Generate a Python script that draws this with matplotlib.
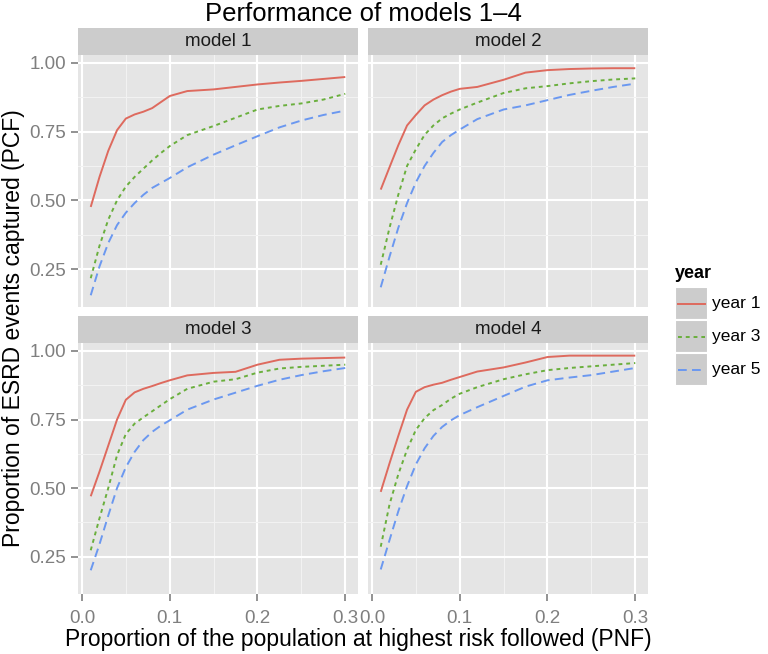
import matplotlib
matplotlib.use("Agg")
import matplotlib.pyplot as plt
from matplotlib.patches import Rectangle
import numpy as np

plt.rcParams['font.family'] = ['Liberation Sans', 'DejaVu Sans']

# proportion followed (PNF), common grid for all curves
pnf = [0.01, 0.02, 0.03, 0.04, 0.05, 0.06, 0.07, 0.08, 0.09, 0.10,
       0.12, 0.15, 0.175, 0.20, 0.225, 0.25, 0.275, 0.30]

models = ["model 1", "model 2", "model 3", "model 4"]
years = ["year 1", "year 3", "year 5"]

m1_y1 = [0.476, 0.585, 0.680, 0.755, 0.797, 0.812, 0.822, 0.835, 0.857, 0.879,
         0.897, 0.903, 0.912, 0.921, 0.928, 0.934, 0.941, 0.948]
m1_y3 = [0.217, 0.335, 0.430, 0.500, 0.550, 0.585, 0.615, 0.645, 0.672, 0.697,
         0.737, 0.770, 0.800, 0.830, 0.843, 0.852, 0.866, 0.887]
m1_y5 = [0.155, 0.260, 0.345, 0.410, 0.455, 0.490, 0.520, 0.545, 0.563, 0.581,
         0.620, 0.666, 0.700, 0.733, 0.765, 0.790, 0.810, 0.826]

m2_y1 = [0.539, 0.620, 0.700, 0.772, 0.810, 0.845, 0.866, 0.882, 0.895, 0.905,
         0.912, 0.938, 0.964, 0.973, 0.977, 0.979, 0.980, 0.980]
m2_y3 = [0.266, 0.400, 0.520, 0.625, 0.685, 0.738, 0.772, 0.798, 0.815, 0.830,
         0.855, 0.890, 0.907, 0.915, 0.925, 0.933, 0.939, 0.943]
m2_y5 = [0.184, 0.295, 0.400, 0.490, 0.565, 0.625, 0.672, 0.712, 0.737, 0.757,
         0.795, 0.830, 0.845, 0.864, 0.883, 0.898, 0.912, 0.924]

m3_y1 = [0.470, 0.560, 0.655, 0.750, 0.822, 0.849, 0.862, 0.872, 0.883, 0.893,
         0.911, 0.920, 0.924, 0.950, 0.968, 0.972, 0.974, 0.976]
m3_y3 = [0.273, 0.390, 0.500, 0.620, 0.697, 0.735, 0.758, 0.780, 0.802, 0.824,
         0.862, 0.888, 0.897, 0.921, 0.936, 0.942, 0.946, 0.950]
m3_y5 = [0.200, 0.295, 0.400, 0.500, 0.576, 0.632, 0.675, 0.705, 0.728, 0.747,
         0.786, 0.823, 0.848, 0.873, 0.895, 0.912, 0.926, 0.938]

m4_y1 = [0.486, 0.590, 0.690, 0.786, 0.851, 0.868, 0.877, 0.884, 0.895, 0.905,
         0.925, 0.940, 0.958, 0.978, 0.983, 0.983, 0.983, 0.983]
m4_y3 = [0.286, 0.440, 0.550, 0.640, 0.712, 0.755, 0.784, 0.803, 0.826, 0.844,
         0.868, 0.897, 0.915, 0.930, 0.938, 0.944, 0.950, 0.956]
m4_y5 = [0.203, 0.310, 0.415, 0.507, 0.586, 0.645, 0.690, 0.723, 0.747, 0.766,
         0.795, 0.836, 0.870, 0.893, 0.903, 0.912, 0.925, 0.938]

series = {
    "model 1": [m1_y1, m1_y3, m1_y5],
    "model 2": [m2_y1, m2_y3, m2_y5],
    "model 3": [m3_y1, m3_y3, m3_y5],
    "model 4": [m4_y1, m4_y3, m4_y5],
}

colors = ["#DE6A5E", "#6AAF3D", "#6B98F0"]
dashes = [None, (2.0, 2.0), (4.5, 2.7)]

W, H = 768, 654
fig = plt.figure(figsize=(W / 100, H / 100), dpi=100)

# panel boxes in pixels: (left, top, right, bottom)
cols = [(78, 358), (368, 648)]
rows = [(55, 306.7), (343.3, 594)]
strip_h = 27


def fbox(l, t, r, b):
    return [l / W, (H - b) / H, (r - l) / W, (b - t) / H]


for i, name in enumerate(models):
    rr, cc = divmod(i, 2)
    l, r = cols[cc]
    t, b = rows[rr]
    ax = fig.add_axes(fbox(l, t, r, b))
    ax.set_facecolor("#E5E5E5")
    for s in ax.spines.values():
        s.set_visible(False)
    ax.set_xlim(-0.0045, 0.3145)
    ax.set_ylim(0.1135, 1.028)
    ax.set_xticks([0.0, 0.1, 0.2, 0.3])
    ax.set_xticks([0.05, 0.15, 0.25], minor=True)
    ax.set_yticks([0.25, 0.50, 0.75, 1.00])
    ax.set_yticks([0.375, 0.625, 0.875], minor=True)
    ax.grid(True, which="major", color="white", lw=1.5)
    ax.grid(True, which="minor", color="#F2F2F2", lw=0.8)
    ax.set_axisbelow(True)
    ax.tick_params(which="major", color="#7F7F7F", width=1.2, length=5,
                   labelcolor="#7F7F7F", labelsize=13.5)
    ax.tick_params(axis="y", pad=3.5)
    ax.tick_params(axis="x", pad=6.5)
    ax.tick_params(which="minor", length=0)
    if cc == 1:
        ax.tick_params(axis="y", left=False, labelleft=False)
    else:
        ax.set_yticklabels(["0.25", "0.50", "0.75", "1.00"])
    if rr == 0:
        ax.tick_params(axis="x", bottom=False, labelbottom=False)
    else:
        ax.set_xticklabels(["0.0", "0.1", "0.2", "0.3"])

    for k, yv in enumerate(series[name]):
        line, = ax.plot(pnf, yv, color=colors[k], lw=1.4, label=years[k],
                        solid_joinstyle="round", solid_capstyle="butt")
        if dashes[k] is not None:
            line.set_dashes(dashes[k])

    sax = fig.add_axes(fbox(l, t - strip_h, r, t))
    sax.set_facecolor("#CCCCCC")
    sax.set_xticks([])
    sax.set_yticks([])
    for s in sax.spines.values():
        s.set_visible(False)
    sax.text(0.5, 0.5, name, ha="center", va="center", fontsize=13.5,
             color="#1A1A1A", transform=sax.transAxes)

fig.text(363 / W, (H - 20.7) / H, "Performance of models 1\u20134",
         ha="center", va="baseline", fontsize=18.5)
fig.text(358 / W, (H - 646) / H,
         "Proportion of the population at highest risk followed (PNF)",
         ha="center", va="baseline", fontsize=16.5)
fig.text(14 / W, 326 / H, "Proportion of ESRD events captured (PCF)",
         ha="center", va="center", rotation=90, fontsize=16.5)

# legend
key_l, key_r, key_t, key_b = 675, 708, 287, 386
lax = fig.add_axes(fbox(key_l, key_t, key_r, key_b))
lax.set_xlim(0, 1)
lax.set_ylim(0, 3)
lax.axis("off")
for k, yr in enumerate(years):
    y0 = 2 - k
    lax.add_patch(Rectangle((0, y0), 1, 1, facecolor="#CCCCCC",
                            edgecolor="white", lw=1.5))
    ln, = lax.plot([0.1, 0.9], [y0 + 0.5, y0 + 0.5], color=colors[k], lw=1.4)
    if dashes[k] is not None:
        ln.set_dashes(dashes[k])
    lax.text(1.12, y0 + 0.5, yr, ha="left", va="center", fontsize=12.5,
             color="black", transform=lax.transData, clip_on=False)
fig.text(key_l / W, (H - 278) / H, "year", ha="left", va="baseline",
         fontsize=13, fontweight="bold")

fig.savefig("out.png", dpi=100)
